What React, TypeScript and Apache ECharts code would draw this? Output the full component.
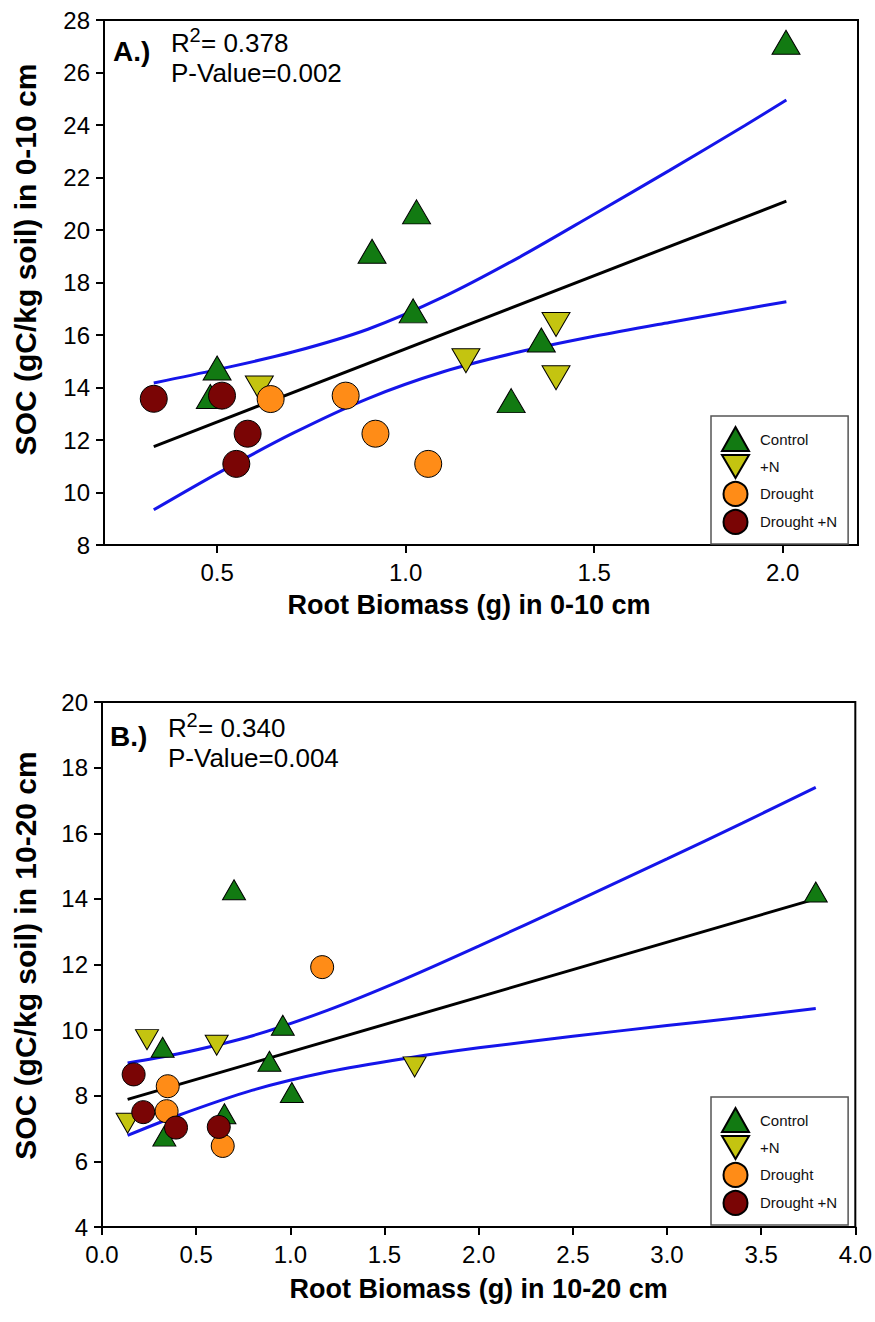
import React, { useEffect, useRef } from "react";
import * as echarts from "echarts";

// ---------- Panel A (0-10 cm) ----------
const controlA: [number, number][] = [
  [0.482, 13.66], [0.5, 14.74], [0.911, 19.19], [1.02, 16.92],
  [1.029, 20.69], [1.28, 13.5], [1.36, 15.81], [2.009, 27.15],
];
const plusNA: [number, number][] = [
  [0.612, 13.98], [1.16, 15.02], [1.399, 16.4], [1.399, 14.37],
];
const droughtA: [number, number][] = [
  [0.642, 13.56], [0.841, 13.69], [0.92, 12.24], [1.06, 11.09],
];
const droughtNA: [number, number][] = [
  [0.332, 13.57], [0.513, 13.69], [0.581, 12.24], [0.551, 11.09],
];
const fitA: [number, number][] = [[0.332, 11.75], [2.01, 21.1]];
const upperA: [number, number][] = [
  [0.332, 14.17], [0.5, 14.68], [0.7, 15.35], [0.9, 16.22], [1.1, 17.45],
  [1.3, 18.95], [1.5, 20.6], [1.7, 22.27], [1.9, 23.98], [2.01, 24.95],
];
const lowerA: [number, number][] = [
  [0.332, 9.34], [0.5, 10.72], [0.7, 12.25], [0.9, 13.58], [1.1, 14.6],
  [1.3, 15.35], [1.5, 15.95], [1.7, 16.48], [1.9, 16.99], [2.01, 17.27],
];
const xTicksA = [0.5, 1.0, 1.5, 2.0];

// ---------- Panel B (10-20 cm) ----------
const controlB: [number, number][] = [
  [0.322, 9.48], [0.331, 6.77], [0.65, 7.45], [0.701, 14.28],
  [0.889, 9.05], [0.96, 10.15], [1.008, 8.1], [3.79, 14.21],
];
const plusNB: [number, number][] = [
  [0.136, 7.16], [0.239, 9.71], [0.609, 9.54], [1.66, 8.88],
];
const droughtB: [number, number][] = [
  [0.343, 7.53], [0.349, 8.29], [0.641, 6.47], [1.169, 11.92],
];
const droughtNB: [number, number][] = [
  [0.168, 8.65], [0.219, 7.5], [0.393, 7.03], [0.62, 7.05],
];
const fitB: [number, number][] = [[0.136, 7.89], [3.79, 14.0]];
const upperB: [number, number][] = [
  [0.136, 9.0], [0.4, 9.27], [0.8, 9.83], [1.2, 10.61], [1.6, 11.54],
  [2.0, 12.56], [2.5, 13.88], [3.0, 15.22], [3.4, 16.31], [3.79, 17.4],
];
const lowerB: [number, number][] = [
  [0.136, 6.79], [0.4, 7.39], [0.8, 8.17], [1.2, 8.73], [1.6, 9.13],
  [2.0, 9.46], [2.5, 9.81], [3.0, 10.14], [3.4, 10.39], [3.79, 10.66],
];

const groupNames = ["Control", "+N", "Drought", "Drought +N"];
const groupColors = ["#127a12", "#c4c410", "#ff8c17", "#7a0505"];
const FONT = "'Liberation Sans', Arial, Helvetica, sans-serif";
const DOWN_TRI = "path://M0,0L20,0L10,17Z";

function buildScatter(idx: number, data: [number, number][][], big: boolean) {
  const tri = big ? [28, 24] : [23, 20];
  const circ = big ? 27 : 23;
  const symbols: any[] = ["triangle", DOWN_TRI, "circle", "circle"];
  const sizes: any[] = [tri, tri, circ, circ];
  return groupNames.map((name, g) => ({
    type: "scatter",
    name,
    xAxisIndex: idx,
    yAxisIndex: idx,
    data: data[g],
    symbol: symbols[g],
    symbolSize: sizes[g],
    itemStyle: { color: groupColors[g], borderColor: "#000", borderWidth: 1, opacity: 1 },
    z: 5,
    silent: true,
  }));
}

function buildLines(idx: number, fit: [number, number][], up: [number, number][], lo: [number, number][]) {
  const common = {
    type: "line",
    xAxisIndex: idx,
    yAxisIndex: idx,
    symbol: "none",
    silent: true,
    z: 3,
  };
  return [
    { ...common, name: "fit" + idx, data: fit, lineStyle: { color: "#000", width: 3 } },
    { ...common, name: "up" + idx, data: up, smooth: 0.3, lineStyle: { color: "#1515ea", width: 3 } },
    { ...common, name: "lo" + idx, data: lo, smooth: 0.3, lineStyle: { color: "#1515ea", width: 3 } },
  ];
}

const axisCommon = {
  axisLine: { show: true, onZero: false, lineStyle: { color: "#000", width: 2 } },
  axisTick: { show: true, inside: false, length: 8, lineStyle: { color: "#000", width: 2 } },
  splitLine: { show: false },
};

function legendFor(top: number) {
  return {
    data: groupNames,
    orient: "vertical",
    left: 711,
    top,
    padding: [10, 11, 9, 10],
    itemGap: 2,
    itemWidth: 27,
    itemHeight: 24,
    borderColor: "#555",
    borderWidth: 1.5,
    backgroundColor: "#fff",
    selectedMode: false,
    textStyle: { fontSize: 15, color: "#111", fontFamily: FONT, padding: [0, 0, 0, 6] },
  };
}

function annotation(x: number, yR: number, label: string, r2: string, p: string) {
  return [
    { type: "text", x: x - 58, y: yR + 8, style: { text: label, font: `bold 28px ${FONT}`, fill: "#000", textVerticalAlign: "middle" } },
    { type: "text", x, y: yR, style: { text: "R", font: `26px ${FONT}`, fill: "#000", textVerticalAlign: "middle" } },
    { type: "text", x: x + 18.5, y: yR - 8, style: { text: "2", font: `20px ${FONT}`, fill: "#000", textVerticalAlign: "middle" } },
    { type: "text", x: x + 30, y: yR, style: { text: "= " + r2, font: `26px ${FONT}`, fill: "#000", textVerticalAlign: "middle" } },
    { type: "text", x, y: yR + 30, style: { text: "P-Value=" + p, font: `26px ${FONT}`, fill: "#000", textVerticalAlign: "middle" } },
  ];
}

export default function App() {
  const ref = useRef<HTMLDivElement>(null);
  useEffect(() => {
    if (!ref.current) return;
    const chart = echarts.init(ref.current, undefined, { renderer: "svg" });
    const titleStyle = { fontSize: 27, fontWeight: "bold", color: "#000", fontFamily: FONT };
    const option: any = {
      animation: false,
      backgroundColor: "#fff",
      textStyle: { fontFamily: FONT },
      grid: [
        { left: 104, top: 20, width: 754, height: 525, show: true, borderColor: "#000", borderWidth: 2, backgroundColor: "transparent" },
        { left: 102, top: 702, width: 754, height: 525, show: true, borderColor: "#000", borderWidth: 2, backgroundColor: "transparent" },
      ],
      xAxis: [
        {
          ...axisCommon,
          type: "value",
          gridIndex: 0,
          min: 0.2,
          max: 2.2,
          axisTick: { ...axisCommon.axisTick, customValues: xTicksA },
          axisLabel: {
            customValues: xTicksA,
            formatter: (v: number) => v.toFixed(1),
            fontSize: 24, color: "#000", margin: 15, fontFamily: FONT,
          },
          name: "Root Biomass (g) in 0-10 cm",
          nameLocation: "middle",
          nameGap: 46,
          nameTextStyle: { ...titleStyle, padding: [0, 24, 0, 0] },
        },
        {
          ...axisCommon,
          type: "value",
          gridIndex: 1,
          min: 0,
          max: 4,
          interval: 0.5,
          axisLabel: {
            formatter: (v: number) => v.toFixed(1),
            fontSize: 24, color: "#000", margin: 15, fontFamily: FONT,
          },
          name: "Root Biomass (g) in 10-20 cm",
          nameLocation: "middle",
          nameGap: 48,
          nameTextStyle: titleStyle,
        },
      ],
      yAxis: [
        {
          ...axisCommon,
          type: "value",
          gridIndex: 0,
          min: 8,
          max: 28,
          interval: 2,
          axisLabel: { fontSize: 24, color: "#000", margin: 14, fontFamily: FONT },
          name: "SOC (gC/kg soil) in 0-10 cm",
          nameLocation: "middle",
          nameRotate: 90,
          nameGap: 64,
          nameTextStyle: { ...titleStyle, fontSize: 30, padding: [0, 0, 0, 46] },
        },
        {
          ...axisCommon,
          type: "value",
          gridIndex: 1,
          min: 4,
          max: 20,
          interval: 2,
          axisLabel: { fontSize: 24, color: "#000", margin: 14, fontFamily: FONT },
          name: "SOC (gC/kg soil) in 10-20 cm",
          nameLocation: "middle",
          nameRotate: 90,
          nameGap: 62,
          nameTextStyle: { ...titleStyle, fontSize: 30, padding: [0, 0, 0, 18] },
        },
      ],
      legend: [legendFor(416), legendFor(1097)],
      graphic: [
        ...annotation(171, 43, "A.)", "0.378", "0.002"),
        ...annotation(168, 728, "B.)", "0.340", "0.004"),
      ],
      series: [
        ...buildLines(0, fitA, upperA, lowerA),
        ...buildScatter(0, [controlA, plusNA, droughtA, droughtNA], true),
        ...buildLines(1, fitB, upperB, lowerB),
        ...buildScatter(1, [controlB, plusNB, droughtB, droughtNB], false),
      ],
    };
    chart.setOption(option);
    return () => chart.dispose();
  }, []);
  return (
    <div
      ref={ref}
      style={{ position: "absolute", left: 0, top: 0, width: 875, height: 1322, background: "#fff" }}
    />
  );
}
